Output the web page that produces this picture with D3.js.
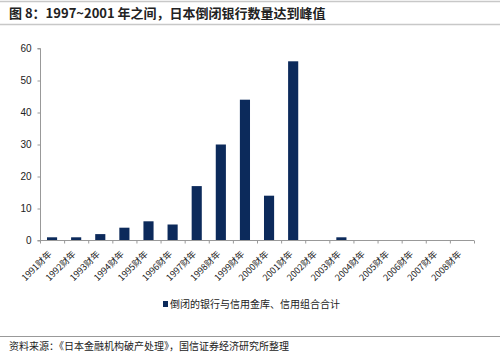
<!DOCTYPE html>
<html><head><meta charset="utf-8">
<script src="https://cdn.jsdelivr.net/npm/d3@7"></script>
<style>body{margin:0;background:#fff;}svg{display:block;}</style>
</head><body>
<script>
const categories = ["1991财年","1992财年","1993财年","1994财年","1995财年","1996财年","1997财年","1998财年","1999财年","2000财年","2001财年","2002财年","2003财年","2004财年","2005财年","2006财年","2007财年","2008财年"];
const values = [1,1,2,4,6,5,17,30,44,14,56,0,1,0,0,0,0,0];
const yTicks = [0,10,20,30,40,50,60];
const seriesName = "倒闭的银行与信用金库、信用组合合计";
const title = "图 8：1997~2001 年之间，日本倒闭银行数量达到峰值";
const source = "资料来源：《日本金融机构破产处理》，国信证券经济研究所整理";

const W = 500, H = 356;
const svg = d3.select("body").append("svg").attr("width", W).attr("height", H);
const font = "'Noto Sans CJK SC', 'Liberation Sans', Arial, sans-serif";
const barColor = "#0c2a5b";

// frame lines
svg.append("line").attr("x1",0).attr("x2",W).attr("y1",1.5).attr("y2",1.5).attr("stroke","#c8c8c8").attr("stroke-width",1.5);
svg.append("line").attr("x1",0).attr("x2",W).attr("y1",24.5).attr("y2",24.5).attr("stroke","#c8c8c8").attr("stroke-width",1.5);
svg.append("line").attr("x1",0).attr("x2",W).attr("y1",336.5).attr("y2",336.5).attr("stroke","#999").attr("stroke-width",1);

svg.append("text").attr("x",9).attr("y",18).attr("font-family",font).attr("font-weight","bold")
  .attr("font-size",13).attr("fill","#222").text(title);

const x = d3.scaleBand().domain(categories).range([40, 474]).paddingInner(0.58).paddingOuter(0.29);
const y = d3.scaleLinear().domain([0,60]).range([240.5, 48.5]);

const g = svg.append("g");
// y axis
const yAxis = d3.axisLeft(y).tickValues(yTicks).tickSize(3).tickPadding(6);
const ya = g.append("g").attr("transform","translate(40.5,0)").call(yAxis);
ya.select(".domain").attr("stroke","#999").attr("d","M-3,48.5H0V240.5H-3");
ya.selectAll(".tick line").attr("stroke","#999");
ya.selectAll(".tick text").attr("font-family","'Liberation Sans', Arial, sans-serif").attr("font-size",10).attr("fill","#222");

// bars
g.selectAll("rect.bar").data(values).join("rect").attr("class","bar")
  .attr("x",(d,i)=>x(categories[i])).attr("width",x.bandwidth())
  .attr("y",d=>y(d)).attr("height",d=>y(0)-y(d)).attr("fill",barColor);

// x axis
const step = x.step();
const xa = g.append("g").attr("transform","translate(0,240.5)");
xa.append("line").attr("x1",40).attr("x2",474).attr("stroke","#999");
const bounds = d3.range(categories.length+1).map(i=>40 + i*step);
xa.selectAll("line.tk").data(bounds).join("line").attr("class","tk")
  .attr("x1",d=>d+0.5).attr("x2",d=>d+0.5).attr("y1",0).attr("y2",3).attr("stroke","#999");
xa.selectAll("text").data(categories).join("text")
  .attr("transform",d=>`translate(${x(d)+x.bandwidth()/2-2},${12}) rotate(-45)`)
  .attr("text-anchor","end").attr("dy","0.35em")
  .attr("font-family",font).attr("font-size",9).attr("fill","#222").text(d=>d);

// legend
const leg = svg.append("g");
leg.append("rect").attr("x",163).attr("y",301).attr("width",5).attr("height",6).attr("fill",barColor);
leg.append("text").attr("x",170).attr("y",308).attr("font-family",font).attr("font-size",10).attr("fill","#222").text(seriesName);

svg.append("text").attr("x",9).attr("y",350).attr("font-family",font).attr("font-size",10).attr("fill","#222").text(source);
</script>
</body></html>
